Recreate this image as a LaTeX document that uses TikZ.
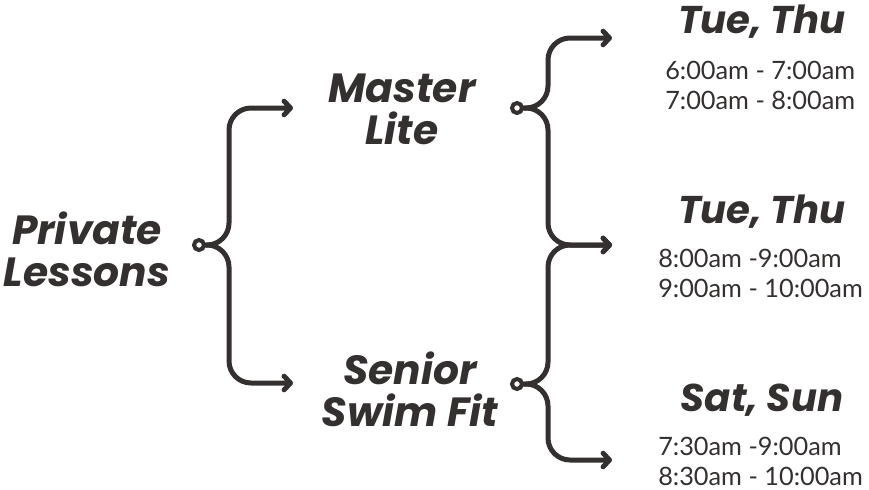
\documentclass[tikz,border=0pt]{standalone}
\usepackage{fontspec}
\usepackage{tikz}
\usetikzlibrary{arrows.meta}
\newfontfamily\headfont{Poppins}
\newfontfamily\slotfont{Lato}
\definecolor{ink}{RGB}{51,48,47}

\begin{document}
\begin{tikzpicture}[
  x=0.025cm, y=-0.025cm,
  topic/.style={align=center, text=ink, inner sep=0pt, font=\headfont\bfseries\itshape\fontsize{29}{30}\selectfont},
  dayhead/.style={topic, font=\headfont\bfseries\itshape\fontsize{27.5}{30}\selectfont},
  slots/.style={align=left, text=ink, inner sep=0pt, anchor=west, font=\slotfont\fontsize{18}{21.3}\selectfont},
  hub/.style={circle, draw=ink, fill=white, line width=1mm, minimum size=2.5mm, inner sep=0pt},
  brace/.style={draw=ink, line width=1.25mm, line cap=round, rounded corners=5.5mm,
    -{Straight Barb[round, length=1.6mm, width=3.4mm]}}
]
\useasboundingbox (0,0) rectangle (869,489);

% Left: main topic
\node[topic] (pl) at (87,249) {Private\\Lessons};

% Middle: the two programmes
\node[topic] (ml) at (402,109) {Master\\Lite};
\node[topic] (ss) at (410,389) {Senior\\Swim Fit};

% Right: days and time slots
\node[dayhead] (d1) at (762,22) {Tue, Thu};
\node[slots] (s1) at (665,85) {6:00am - 7:00am\\7:00am - 8:00am};
\node[dayhead] (d2) at (762,212) {Tue, Thu};
\node[slots] (s2) at (658,273) {8:00am -9:00am\\9:00am - 10:00am};
\node[dayhead] (d3) at (762,400) {Sat, Sun};
\node[slots] (s3) at (658,461) {7:30am -9:00am\\8:30am - 10:00am};

% Brace hubs and arrow ends
\node[hub] (hpl) at (199,245) {};
\node[hub] (hml) at (517,108) {};
\node[hub] (hss) at (517,384) {};
\coordinate (tml) at (293,108);
\coordinate (tss) at (293,383);
\coordinate (t1) at (612,38);
\coordinate (t2) at (612,245);
\coordinate (t3) at (612,460);

% Braces
\draw[brace] (hpl.east) -- ++(23,0) |- (tml);
\draw[brace] (hpl.east) -- ++(23,0) |- (tss);
\draw[brace] (hml.east) -- ++(24,0) |- (t1);
\draw[brace] (hml.east) -- ++(24,0) |- (t2);
\draw[brace] (hss.east) -- ++(24,0) |- (t2);
\draw[brace] (hss.east) -- ++(24,0) |- (t3);
\end{tikzpicture}
\end{document}
